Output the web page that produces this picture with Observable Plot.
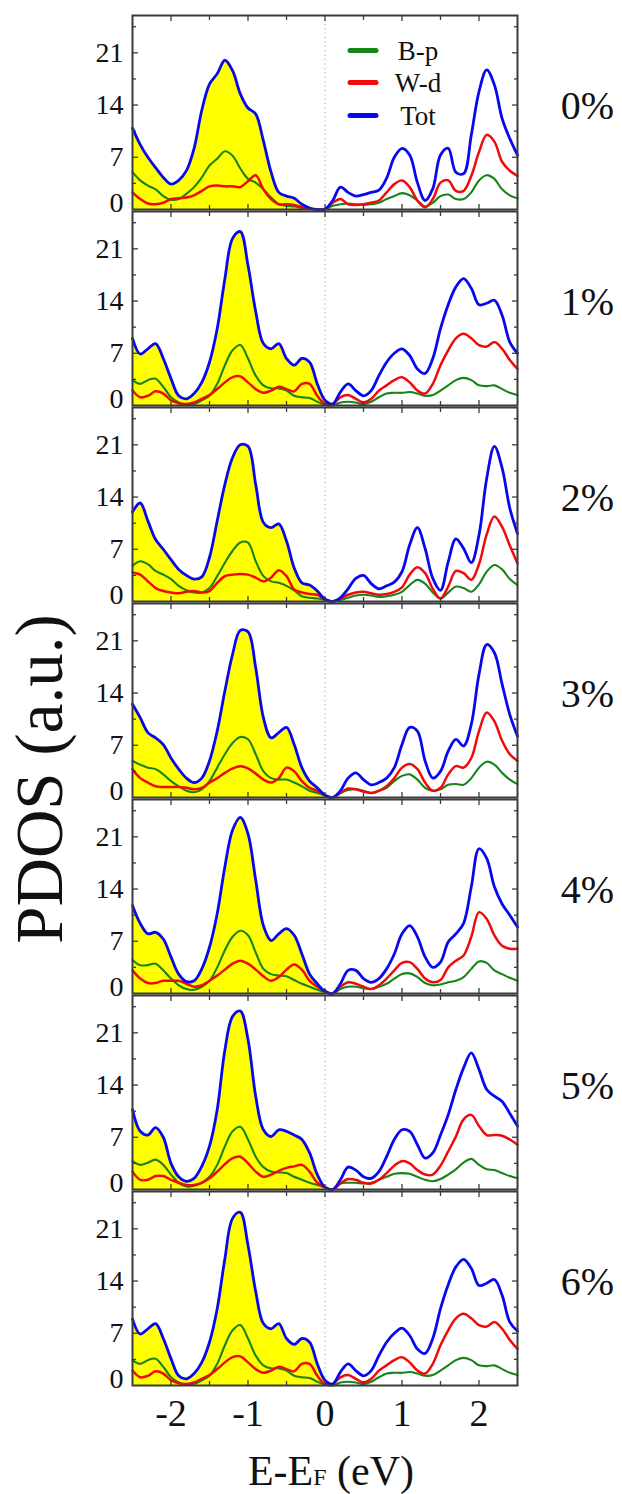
<!DOCTYPE html>
<html><head><meta charset="utf-8">
<script src="https://cdn.jsdelivr.net/npm/d3@7"></script>
<script src="https://cdn.jsdelivr.net/npm/@observablehq/plot@0.6"></script>
<style>
html,body{margin:0;padding:0;background:#fff;}
#chart{position:relative;width:622px;height:1494px;overflow:hidden;font-family:"Liberation Serif","DejaVu Serif",serif;}
.panel{position:absolute;left:0;}
#overlay{position:absolute;left:0;top:0;pointer-events:none;overflow:visible;}
svg text{font-family:"Liberation Serif","DejaVu Serif",serif;}
</style></head><body><div id="chart"></div><script>
// Energy grid (eV), -2.5 .. 2.5 step 0.1
const energy = [-2.5,-2.4,-2.3,-2.2,-2.1,-2.0,-1.9,-1.8,-1.7,-1.6,
 -1.5,-1.4,-1.3,-1.2,-1.1,-1.0,-0.9,-0.8,-0.7,-0.6,
 -0.5,-0.4,-0.3,-0.2,-0.1,0.0,0.1,0.2,0.3,0.4,
 0.5,0.6,0.7,0.8,0.9,1.0,1.1,1.2,1.3,1.4,
 1.5,1.6,1.7,1.8,1.9,2.0,2.1,2.2,2.3,2.4,
 2.5];
const strainLabels = ["0%","1%","2%","3%","4%","5%","6%"];
const seriesNames = ["B-p","W-d","Tot"];
const yMajorTicks = [7,14,21];
const yMinorTicks = [3.5,10.5,17.5,24.5];
const xMajorTicks = [-2,-1,0,1,2];
const xMinorTicks = [-1.5,-0.5,0.5,1.5];

// 0%
const tot_0 = [10.9,8.7,7.0,5.6,4.3,3.4,3.9,5.2,8.2,13.3,
 16.8,18.2,20.0,18.6,15.5,13.6,12.8,9.2,5.0,2.3,
 1.8,1.5,0.7,0.2,0.0,0.05,1.2,3.0,2.3,1.8,
 2.0,2.3,2.6,4.2,7.0,8.2,7.3,3.6,1.2,2.8,
 7.3,8.2,5.0,4.8,10.0,15.8,18.7,16.7,12.2,9.5,
 7.3];
const bp_0 = [5.0,3.9,3.2,2.7,1.8,1.3,1.4,2.1,3.0,4.3,
 5.9,6.8,7.8,7.2,5.5,4.1,3.6,2.7,1.6,0.7,
 0.5,0.4,0.2,0.1,0.0,0.0,0.5,0.7,0.8,0.7,
 0.6,0.7,0.9,1.4,1.8,2.2,1.9,1.2,0.4,0.9,
 1.8,2.0,1.4,1.4,2.3,3.9,4.6,4.1,2.7,1.9,
 1.5];
const wd_0 = [2.3,1.4,0.8,0.7,0.9,1.4,1.5,1.6,1.9,2.5,
 3.1,3.2,3.1,3.1,3.0,3.8,4.6,2.7,1.4,0.7,
 0.7,0.6,0.3,0.1,0.0,0.05,0.9,1.4,0.7,0.6,
 0.7,0.9,1.2,2.3,3.4,3.9,3.0,1.2,0.3,1.4,
 3.6,3.9,2.5,2.5,4.5,7.7,10.0,9.1,6.4,5.2,
 4.5];
// 1%
const tot_1 = [9.0,6.9,7.6,8.3,6.3,3.6,1.3,0.9,1.6,3.1,
 5.8,10.3,17.0,22.4,23.3,18.8,12.6,8.3,7.6,8.3,
 6.3,5.4,6.3,5.8,2.9,0.7,0.2,1.8,2.9,2.0,
 1.3,2.0,4.0,5.8,7.0,7.6,6.7,4.9,4.3,6.3,
 10.3,13.5,15.9,17.0,15.7,13.5,13.7,14.1,12.1,8.5,
 7.0];
const bp_1 = [3.4,2.9,3.4,3.6,2.5,1.1,0.4,0.1,0.2,0.7,
 1.3,2.9,5.4,7.4,8.1,6.3,4.0,2.7,2.3,2.3,
 2.0,1.3,1.1,1.0,0.5,0.1,0.0,0.4,0.5,0.4,
 0.2,0.5,1.1,1.6,1.7,1.7,1.8,1.6,1.3,1.4,
 2.0,2.7,3.4,3.7,3.4,2.7,2.6,2.7,2.2,1.7,
 1.4];
const wd_1 = [2.0,1.1,1.3,1.9,1.6,0.7,0.3,0.2,0.4,0.9,
 1.4,2.2,3.1,3.8,3.9,3.1,2.2,1.7,2.0,2.5,
 2.2,1.9,2.9,2.9,1.3,0.2,0.2,1.1,1.4,0.9,
 0.4,0.9,2.0,2.7,3.4,3.8,3.1,2.0,1.6,2.9,
 5.4,7.4,9.0,9.6,9.0,8.1,7.9,8.5,7.6,6.1,
 4.9];
// 2%
const tot_2 = [12.0,13.2,10.8,8.3,7.0,5.6,4.3,3.5,3.0,3.3,
 5.9,10.8,15.7,19.3,21.0,20.8,15.7,10.6,9.9,10.4,
 8.1,4.5,2.5,2.2,1.4,0.3,0.0,0.5,1.7,3.1,
 3.5,2.4,1.7,2.1,2.6,4.0,7.6,9.9,7.1,3.1,
 1.5,5.3,8.4,7.1,5.2,8.9,16.5,20.8,17.9,12.5,
 9.1];
const bp_2 = [4.8,5.4,5.0,4.1,3.6,3.0,2.1,1.5,1.2,1.2,
 1.8,3.4,5.2,6.8,7.9,7.9,5.4,3.4,2.7,2.5,
 2.1,1.5,0.7,0.5,0.4,0.2,0.0,0.2,0.5,0.8,
 0.9,0.8,0.6,0.7,0.9,1.3,2.2,2.9,2.4,1.2,
 0.4,1.2,2.0,1.8,1.3,2.3,4.0,4.9,4.3,3.0,
 2.2];
const wd_2 = [3.9,3.6,2.7,1.8,1.4,1.2,1.1,1.3,1.4,1.2,
 1.4,2.5,3.4,3.6,3.7,3.6,3.2,2.7,3.2,4.2,
 3.4,1.6,1.2,1.0,0.9,0.3,0.0,0.4,0.9,1.2,
 1.3,1.1,0.9,1.0,1.3,1.9,3.6,4.6,3.8,1.7,
 0.4,2.0,4.1,3.8,2.9,5.0,9.0,11.4,10.0,7.5,
 5.1];
// 3%
const tot_3 = [12.5,10.7,8.7,8.0,7.1,5.3,3.8,2.6,2.0,2.6,
 4.9,8.9,14.3,19.2,22.4,22.2,17.4,10.7,8.0,8.7,
 9.4,7.1,4.0,2.2,1.3,0.3,0.0,0.9,2.6,3.3,
 2.4,1.7,2.0,2.6,4.0,7.1,9.4,8.9,4.9,2.6,
 3.5,6.2,7.8,6.9,9.8,16.5,20.5,19.4,15.2,11.1,
 8.2];
const bp_3 = [4.9,4.4,4.0,3.8,3.1,2.2,1.5,0.9,0.7,1.1,
 2.2,4.0,5.8,7.3,8.1,7.8,5.8,3.5,2.6,2.4,
 2.4,2.0,1.5,0.9,0.6,0.3,0.0,0.6,1.0,1.1,
 0.9,0.6,0.9,1.3,2.2,2.9,3.1,2.4,1.3,0.9,
 1.1,1.7,1.8,1.7,2.6,4.0,4.8,4.4,3.3,2.4,
 1.8];
const wd_3 = [3.8,2.6,2.0,1.5,1.4,1.4,1.4,1.3,1.1,1.3,
 2.0,2.6,3.3,3.9,4.2,3.9,3.2,2.4,2.0,2.6,
 4.0,3.5,2.2,1.3,0.9,0.3,0.0,0.6,1.2,1.1,
 0.8,0.6,0.9,1.5,2.6,4.0,4.5,3.8,2.0,0.9,
 1.3,3.1,4.2,4.0,5.3,8.9,11.4,10.2,7.6,5.8,
 4.9];
// 4%
const tot_4 = [11.8,9.4,8.0,8.2,7.3,4.9,2.6,1.6,1.7,3.3,
 6.2,10.7,17.0,21.9,23.6,21.4,15.2,9.1,7.1,8.0,
 8.7,7.8,5.3,2.6,1.3,0.3,0.0,1.3,3.1,3.1,
 2.0,1.5,2.0,3.3,5.3,8.0,9.1,7.6,4.9,3.5,
 4.2,6.9,8.0,9.4,14.3,19.4,18.1,14.3,12.0,10.5,
 8.9];
const bp_4 = [4.5,3.8,3.8,4.0,3.1,2.0,1.1,0.6,0.5,0.9,
 1.7,3.5,5.8,7.6,8.4,7.8,5.5,3.3,2.6,2.4,
 2.3,1.8,1.3,0.9,0.5,0.2,0.0,0.6,0.9,0.9,
 0.7,0.6,0.9,1.3,2.0,2.6,2.7,2.2,1.4,1.1,
 1.2,1.5,1.7,2.2,3.3,4.3,4.1,3.1,2.6,2.1,
 1.7];
const wd_4 = [3.1,2.0,1.4,1.4,1.7,1.7,1.7,1.3,0.9,1.1,
 1.7,2.4,3.2,4.0,4.4,4.0,3.2,2.3,1.7,2.2,
 3.2,3.9,3.2,1.7,0.9,0.3,0.0,0.9,1.5,1.3,
 0.9,0.6,1.1,2.0,3.1,4.1,4.2,3.3,2.0,1.5,
 1.8,3.5,4.4,5.1,7.6,10.9,10.0,7.8,6.4,6.0,
 6.0];
// 5%
const tot_5 = [10.7,7.8,7.3,8.3,7.0,3.5,1.7,1.1,1.5,3.1,
 5.8,10.7,18.7,23.2,23.9,20.1,12.5,8.0,7.1,8.0,
 7.8,7.3,6.7,4.9,2.0,0.3,0.0,1.3,3.0,2.6,
 1.7,1.5,2.4,4.4,6.7,8.0,7.8,6.0,4.2,4.9,
 7.3,10.0,13.4,16.3,18.3,16.1,13.4,12.5,11.8,10.2,
 8.5];
const bp_5 = [3.8,3.3,3.6,4.0,3.3,2.0,0.9,0.4,0.5,0.9,
 1.7,3.3,5.8,7.8,8.4,6.7,4.4,3.0,2.4,2.3,
 2.2,1.7,1.3,0.9,0.6,0.3,0.0,0.8,0.9,0.9,
 0.8,0.9,1.3,1.7,2.1,2.2,2.1,1.7,1.3,1.1,
 1.4,2.0,2.7,3.6,4.1,3.3,2.7,2.6,2.2,1.8,
 1.5];
const wd_5 = [2.4,1.3,1.3,1.8,1.8,1.3,0.9,0.6,0.6,0.9,
 1.5,2.4,3.4,4.2,4.4,3.5,2.4,1.7,2.0,2.5,
 2.9,3.1,3.3,2.4,0.9,0.3,0.0,0.8,1.4,1.3,
 0.9,0.8,1.3,2.2,3.2,3.8,3.5,2.6,2.0,2.0,
 3.2,5.1,7.1,9.4,10.0,8.5,7.3,7.3,7.2,6.7,
 6.0];
// 6%
const tot_6 = [8.9,6.9,7.6,8.3,6.3,3.6,1.3,0.9,1.6,3.1,
 5.8,10.3,17.0,22.4,23.2,18.8,12.6,8.3,7.6,8.3,
 6.3,5.5,6.3,5.8,2.9,0.7,0.2,1.8,2.9,2.0,
 1.3,2.0,4.0,5.8,7.0,7.7,6.7,4.9,4.3,6.3,
 10.3,13.5,15.9,16.9,15.7,13.4,13.7,14.2,12.1,8.5,
 7.3];
const bp_6 = [3.4,2.9,3.4,3.6,2.5,1.1,0.4,0.1,0.2,0.7,
 1.3,2.9,5.4,7.4,8.1,6.3,4.0,2.7,2.3,2.3,
 2.0,1.3,1.1,1.0,0.5,0.1,0.0,0.4,0.5,0.4,
 0.2,0.5,1.1,1.6,1.7,1.7,1.8,1.6,1.3,1.4,
 2.0,2.7,3.4,3.7,3.4,2.7,2.6,2.7,2.2,1.7,
 1.4];
const wd_6 = [2.0,1.1,1.3,1.9,1.6,0.7,0.3,0.2,0.4,0.9,
 1.4,2.2,3.1,3.8,3.9,3.1,2.2,1.7,2.0,2.5,
 2.2,1.9,2.9,2.9,1.3,0.2,0.2,1.1,1.4,0.9,
 0.4,0.9,2.0,2.7,3.4,3.8,3.1,2.0,1.6,2.9,
 5.4,7.4,9.0,9.6,9.0,8.1,7.9,8.5,7.6,6.1,
 4.9];

const totSeries = [tot_0,tot_1,tot_2,tot_3,tot_4,tot_5,tot_6];
const bpSeries = [bp_0,bp_1,bp_2,bp_3,bp_4,bp_5,bp_6];
const wdSeries = [wd_0,wd_1,wd_2,wd_3,wd_4,wd_5,wd_6];

const C_BP = "#178417", C_WD = "#f00a0a", C_TOT = "#0808f0", C_FILL = "#ffff00", C_FRAME = "#3a3a3a";
const FONT = "Liberation Serif, DejaVu Serif, serif";
const W = 622, PH = 196, ML = 132, MR = 105, TOP0 = 13.7, XPAD = 70;
const curve = "catmull-rom";
const chart = document.getElementById("chart");

strainLabels.forEach((lab, i) => {
  const last = i === strainLabels.length - 1;
  const rows = energy.map((e, j) => ({e, bp: bpSeries[i][j], wd: wdSeries[i][j], tot: totSeries[i][j]}));
  const marks = [
    Plot.areaY(rows.filter(d => d.e <= 0), {x: "e", y: "tot", fill: C_FILL, curve}),
    Plot.ruleX([0], {stroke: "#a0a0a0", strokeWidth: 1, strokeDasharray: "1.2,3.2"}),
    Plot.lineY(rows, {x: "e", y: "bp", stroke: C_BP, strokeWidth: 2.1, curve}),
    Plot.lineY(rows, {x: "e", y: "wd", stroke: C_WD, strokeWidth: 2.5, curve}),
    Plot.lineY(rows, {x: "e", y: "tot", stroke: C_TOT, strokeWidth: 2.8, curve}),
    // inward ticks
    Plot.axisY({ticks: yMajorTicks, anchor: "left", tickSize: 6, dx: 6, fill: "none", stroke: C_FRAME, strokeWidth: 1.3, label: null}),
    Plot.axisY({ticks: yMinorTicks, anchor: "left", tickSize: 4, dx: 4, fill: "none", stroke: C_FRAME, strokeWidth: 1.3, label: null}),
    Plot.axisY({ticks: yMajorTicks, anchor: "right", tickSize: 6, dx: -6, fill: "none", stroke: C_FRAME, strokeWidth: 1.3, label: null}),
    Plot.axisY({ticks: yMinorTicks, anchor: "right", tickSize: 4, dx: -4, fill: "none", stroke: C_FRAME, strokeWidth: 1.3, label: null}),
    Plot.axisX({ticks: xMajorTicks, anchor: "top", tickSize: 5, dy: 5, fill: "none", stroke: C_FRAME, strokeWidth: 1.3, label: null}),
    Plot.axisX({ticks: xMinorTicks, anchor: "top", tickSize: 4, dy: 4, fill: "none", stroke: C_FRAME, strokeWidth: 1.3, label: null}),
    Plot.axisX({ticks: xMajorTicks, anchor: "bottom", tickSize: 5, dy: -5, fill: "none", stroke: C_FRAME, strokeWidth: 1.3, label: null}),
    Plot.axisX({ticks: xMinorTicks, anchor: "bottom", tickSize: 4, dy: -4, fill: "none", stroke: C_FRAME, strokeWidth: 1.3, label: null}),
    // y tick labels
    Plot.axisY({ticks: yMajorTicks, anchor: "left", tickSize: 0, tickPadding: 9, fontSize: 28, fill: "#111", tickFormat: d => String(d), label: null}),
    Plot.axisY({ticks: [0], anchor: "left", tickSize: 0, tickPadding: 9, dy: -6, fontSize: 28, fill: "#111", tickFormat: d => String(d), label: null}),
    // strain label
    Plot.text([lab], {text: d => d, frameAnchor: "right", dx: XPAD, dy: -6, fontSize: 40, fill: "#111", textAnchor: "middle"}),
    Plot.frame({stroke: C_FRAME, strokeWidth: 2})
  ];
  if (last) {
    // x tick labels below the bottom panel, placed by the x scale
    marks.push(Plot.text(xMajorTicks, {x: d => d, text: d => String(d), frameAnchor: "bottom", dy: 28, lineAnchor: "middle", fontSize: 38, fill: "#111"}));
  }
  const svg = Plot.plot({
    width: W, height: last ? PH + 70 : PH,
    marginLeft: ML, marginRight: MR, marginTop: 1, marginBottom: last ? 71 : 1,
    x: {domain: [-2.5, 2.5], axis: null},
    y: {domain: [0, 26], axis: null},
    style: {fontFamily: FONT, background: "transparent", overflow: "visible"},
    marks
  });
  svg.classList.add("panel");
  svg.style.top = (TOP0 + PH * i) + "px";
  chart.appendChild(svg);

  if (i === 0) {
    // legend inside the first panel
    const g = d3.select(svg).append("g").attr("font-family", FONT).attr("font-size", 27);
    const colors = [C_BP, C_WD, C_TOT];
    const ys = [36.5, 68.5, 101.5];
    seriesNames.forEach((n, k) => {
      g.append("line").attr("x1", 350).attr("x2", 376).attr("y1", ys[k]).attr("y2", ys[k])
        .attr("stroke", colors[k]).attr("stroke-width", 5).attr("stroke-linecap", "round");
      g.append("text").attr("x", 418).attr("y", ys[k]).attr("dy", "0.35em")
        .attr("text-anchor", "middle").attr("fill", "#111").text(n);
    });
  }
});

// titles
const ov = d3.select(chart).append("svg").attr("id", "overlay").attr("width", W).attr("height", 1494)
  .attr("font-family", FONT).attr("fill", "#111");
ov.append("text").attr("transform", "translate(62,779) rotate(-90)").attr("text-anchor", "middle")
  .attr("font-size", 67).text("PDOS (a.u.)");
const xt = ov.append("text").attr("x", 331).attr("y", 1485).attr("text-anchor", "middle").attr("font-size", 42);
xt.append("tspan").text("E-E");
xt.append("tspan").attr("font-size", 24).text("F");
xt.append("tspan").text(" (eV)");
</script></body></html>
